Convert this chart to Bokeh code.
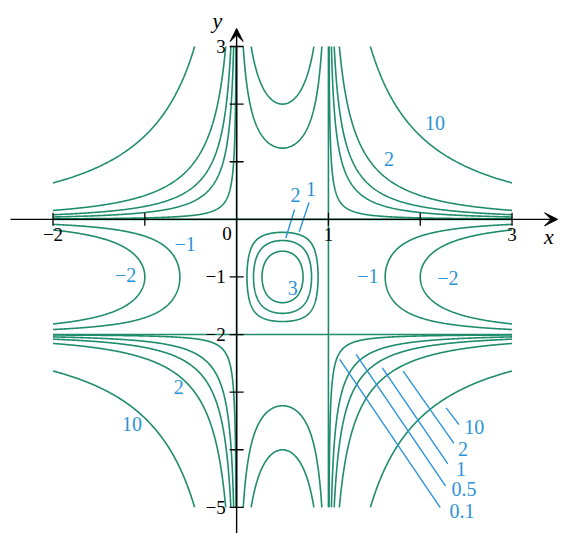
import numpy as np
from bokeh.plotting import figure
from bokeh.models import Arrow, VeeHead
from bokeh.embed import file_html
from bokeh.resources import INLINE
from bokeh.core.properties import value

# ---------------- data ----------------
# surface f(x, y) = x (x - 1) y (y + 2) on the drawn window
x_domain = [-2, 3]
y_domain = [-5, 3]
x_roots = [0, 1]
y_roots = [0, -2]
levels_main = [-2, -1, 0, 0.1, 0.5, 1, 2, 10]
levels_center = [0.15, 0.2]

x_ticks = [-2, -1, 1, 2, 3]
x_tick_labels = ["\u22122", "", "1", "", "3"]
y_ticks = [3, 2, 1, -1, -2, -3, -4, -5]
y_tick_labels = ["3", "", "", "\u22121", "\u22122", "", "", "\u22125"]

# plain level labels
lab_text = ["10", "2", "\u22121", "\u22122", "\u22121", "\u22122", "2", "10", "3"]
lab_x = [2.16, 1.66, -0.56, -1.21, 1.43, 2.30, -0.63, -1.14, 0.61]
lab_y = [1.68, 1.05, -0.42, -0.96, -0.98, -1.01, -2.91, -3.56, -1.20]

# labels with leader lines
call_text = ["2", "1", "10", "2", "1", "0.5", "0.1"]
call_tx = [0.64, 0.81, 2.48, 2.41, 2.39, 2.34, 2.32]
call_ty = [0.43, 0.52, -3.60, -3.98, -4.34, -4.69, -5.07]
lead_x0 = [0.631, 0.789, 2.282, 1.814, 1.587, 1.301, 1.123]
lead_y0 = [0.170, 0.293, -3.273, -2.635, -2.580, -2.345, -2.432]
lead_x1 = [0.536, 0.682, 2.423, 2.367, 2.300, 2.275, 2.218]
lead_y1 = [-0.325, -0.217, -3.563, -3.889, -4.247, -4.627, -5.005]

GREEN = "#1f8c6c"
BLUE = "#2b93d8"
SERIF = "Liberation Serif"


def f(x, y):
    return (x - x_roots[0]) * (x - x_roots[1]) * (y - y_roots[0]) * (y - y_roots[1])


xs = np.linspace(x_domain[0], x_domain[1], 600)
ys = np.linspace(y_domain[0], y_domain[1], 960)
X, Y = np.meshgrid(xs, ys)
Z = f(X, Y)

xc = np.linspace(x_roots[0], x_roots[1], 300)
yc = np.linspace(y_roots[1], y_roots[0], 600)
XC, YC = np.meshgrid(xc, yc)
ZC = f(XC, YC)

p = figure(width=567, height=533, x_range=(-2.572, 3.604), y_range=(-5.454, 3.799),
           output_backend="svg", toolbar_location=None, min_border=0)
p.axis.visible = False
p.grid.visible = False
p.outline_line_color = None
p.background_fill_color = "white"

p.contour(xs, ys, Z, levels_main, line_color=GREEN, line_width=1.6)
p.contour(xc, yc, ZC, levels_center, line_color=GREEN, line_width=1.6)

# axes
p.add_layout(Arrow(end=VeeHead(size=13, fill_color="black", line_color="black", line_width=1),
                   x_start=-2.463, y_start=0, x_end=3.496, y_end=0,
                   line_color="black", line_width=1.4))
p.add_layout(Arrow(end=VeeHead(size=13, fill_color="black", line_color="black", line_width=1),
                   x_start=0, y_start=-5.454, x_end=0, y_end=3.313,
                   line_color="black", line_width=1.4))

p.scatter(x_ticks, [0] * len(x_ticks), marker="dash", size=13, angle=np.pi / 2,
          line_color="black", line_width=1.3)
p.scatter([0] * len(y_ticks), y_ticks, marker="dash", size=14,
          line_color="black", line_width=1.3)

p.text(x=x_ticks, y=[0] * len(x_ticks), text=x_tick_labels, text_align="center",
       text_baseline="top", y_offset=9, text_font=value(SERIF), text_font_size="19px",
       text_color="black")
p.text(x=[0], y=[0], text=["0"], text_align="right", text_baseline="top",
       x_offset=-5, y_offset=8, text_font=value(SERIF), text_font_size="19px",
       text_color="black")
p.text(x=[0] * len(y_ticks), y=y_ticks, text=y_tick_labels, text_align="right",
       text_baseline="middle", x_offset=-11, text_font=value(SERIF),
       text_font_size="19px", text_color="black")
p.text(x=[3.40], y=[-0.30], text=["x"], text_align="center", text_baseline="middle",
       text_font=value(SERIF), text_font_style="italic", text_font_size="22px",
       text_color="black")
p.text(x=[-0.21], y=[3.46], text=["y"], text_align="center", text_baseline="middle",
       text_font=value(SERIF), text_font_style="italic", text_font_size="22px",
       text_color="black")

# level labels
p.text(x=lab_x, y=lab_y, text=lab_text, text_align="center", text_baseline="middle",
       text_font=value(SERIF), text_font_size="20px", text_color=BLUE)

p.segment(x0=lead_x0, y0=lead_y0, x1=lead_x1, y1=lead_y1, line_color=BLUE, line_width=1.4)
p.text(x=call_tx[:2], y=call_ty[:2], text=call_text[:2], text_align="center",
       text_baseline="middle", text_font=value(SERIF), text_font_size="20px", text_color=BLUE)
p.text(x=call_tx[2:], y=call_ty[2:], text=call_text[2:], text_align="left",
       text_baseline="middle", text_font=value(SERIF), text_font_size="20px", text_color=BLUE)

open("out.html", "w").write(file_html(p, INLINE))
